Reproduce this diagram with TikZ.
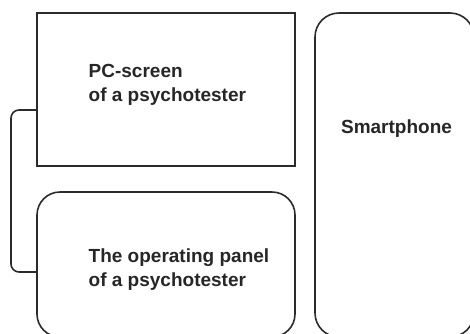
\documentclass[tikz,border=0pt]{standalone}
\usepackage{fontspec}
\setmainfont{Liberation Sans}
\definecolor{ink}{HTML}{2B2B2B}
\definecolor{txt}{HTML}{262626}
\begin{document}
\begin{tikzpicture}[x=1pt,y=-1pt,
  box/.style={draw=ink,line width=1.6pt,inner sep=0pt},
  lbl/.style={anchor=base west,inner sep=0pt,text=txt,font=\fontsize{19}{24}\selectfont\bfseries,align=left}]
\useasboundingbox (0,0) rectangle (470,333);
\begin{scope}
\clip (0,0) rectangle (470,333);
\node[box,minimum width=258pt,minimum height=153pt] (pc) at (166,89.5) {};
\node[box,rounded corners=23pt,minimum width=258pt,minimum height=145pt] (panel) at (166,264.5) {};
\node[box,rounded corners=24pt,minimum width=159pt,minimum height=324pt] (phone) at (394.5,175) {};
\end{scope}
\node[lbl] (pct) at (88.5,101.7) {PC-screen\\of a psychotester};
\node[lbl] (pat) at (88.5,286) {The operating panel\\of a psychotester};
\node[lbl,anchor=base] (pht) at (396.5,133) {Smartphone};
\draw[draw=ink,line width=1.6pt,rounded corners=8pt]
  ([yshift=-20.5pt]pc.west) -| (11,190) |- ([yshift=-7.5pt]panel.west);
\end{tikzpicture}
\end{document}
